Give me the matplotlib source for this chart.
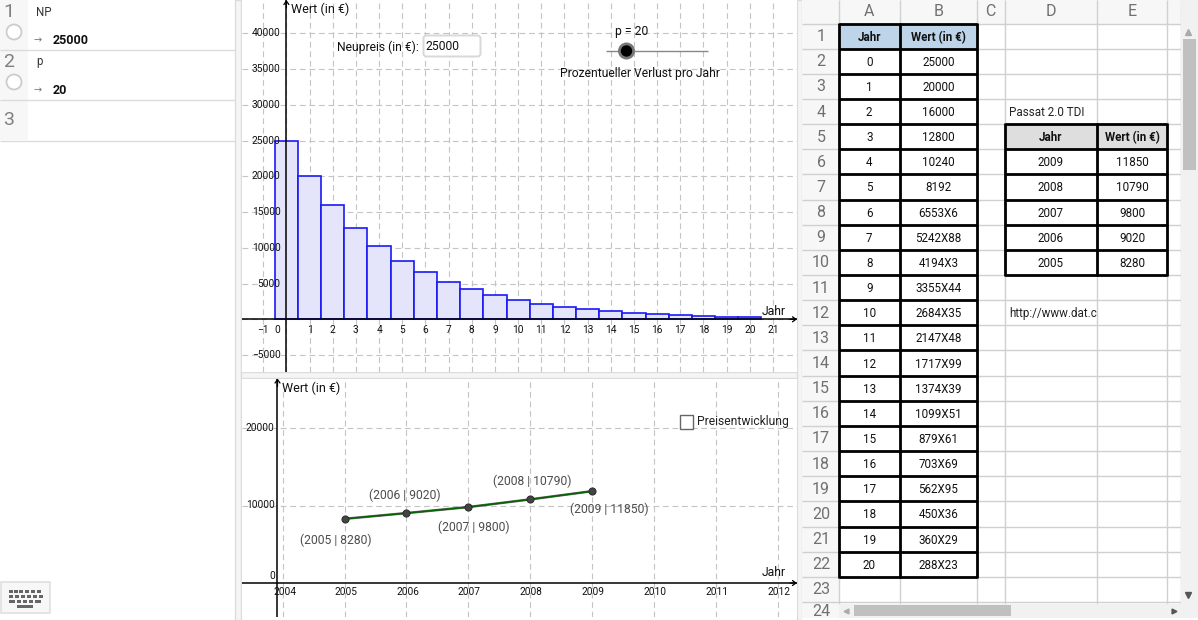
import matplotlib
matplotlib.use("Agg")
import matplotlib.pyplot as plt
from matplotlib.patches import Rectangle, Circle, FancyBboxPatch

plt.rcParams['font.family'] = ['Roboto', 'DejaVu Sans']

# ---------- data ----------
jahre = list(range(21))
wert = [25000, 20000, 16000, 12800, 10240, 8192, 6553.6, 5242.88, 4194.3, 3355.44,
        2684.35, 2147.48, 1717.99, 1374.39, 1099.51, 879.61, 703.69, 562.95, 450.36, 360.29, 288.23]
wert_text = ["25000", "20000", "16000", "12800", "10240", "8192", "6553X6", "5242X88", "4194X3",
             "3355X44", "2684X35", "2147X48", "1717X99", "1374X39", "1099X51", "879X61",
             "703X69", "562X95", "450X36", "360X29", "288X23"]
passat_jahr = [2005, 2006, 2007, 2008, 2009]
passat_wert = [8280, 9020, 9800, 10790, 11850]
passat_label_offset = [(-9, -21), (-2, 18), (5, -20), (2, 18), (17, -18)]
oben_xticks = list(range(-1, 22))
oben_yticks = list(range(-5000, 40001, 5000))
unten_xticks = list(range(2004, 2013))
unten_yticks = [10000, 20000]
spalten = ["A", "B", "C", "D", "E"]

W, H = 1198, 620
TICK = 7.3
LABEL = 9.0
GRID = '#c4c4c4'

fig = plt.figure(figsize=(W / 100, H / 100), dpi=100, facecolor='white')


def pixel_axes(x0, y0, x1, y1, z):
    a = fig.add_axes([x0 / W, 1 - y1 / H, (x1 - x0) / W, (y1 - y0) / H], zorder=z)
    return a


# ---------- UI background ----------
ui = pixel_axes(0, 0, W, H, 0)
ui.set_xlim(0, W); ui.set_ylim(H, 0); ui.axis('off')


def rect(a, x0, y0, x1, y1, fc, ec='none', lw=0, z=1):
    a.add_patch(Rectangle((x0, y0), x1 - x0, y1 - y0, fc=fc, ec=ec, lw=lw, zorder=z))


def line(a, xs, ys, c='#d8d8d8', lw=1.0, z=2):
    a.plot(xs, ys, color=c, lw=lw, zorder=z, solid_capstyle='butt')


# algebra view
rect(ui, 0, 0, 28, 140, '#f7f7f7')
for y in (49.5, 99.5, 140.5):
    line(ui, [0, 235], [y, y], '#dcdcdc', 1.0)
for i, (lab, val, y) in enumerate([("NP", "25000", 0), ("p", "20", 50)]):
    ui.text(9, y + 12, str(i + 1), fontsize=14, color='#808080', ha='center', va='center')
    ui.add_patch(Circle((14, y + 32), 7.5, fc='white', ec='#cccccc', lw=1.3, zorder=3))
    ui.text(36, y + 12, lab, fontsize=8.3, color='#333333', va='center')
    ui.text(33, y + 40, "→", fontsize=7, color='#777777', va='center')
    ui.text(53, y + 40, val, fontsize=9, color='#111111', weight='bold', va='center')
ui.text(9, 120, "3", fontsize=14, color='#808080', ha='center', va='center')

# keyboard button
rect(ui, 0.5, 582, 50, 612.5, '#f7f7f7', ec='#e0e0e0', lw=1.2)
for yy, xs in [(591.5, [9, 14, 19, 25, 31, 37]), (596.5, [9, 15, 21, 27, 33, 39])]:
    for x in xs:
        rect(ui, x, yy - 1.5, x + 4, yy + 1.5, '#666666', z=3)
for x, w in [(9, 6), (17, 4), (23, 4), (29, 4), (35, 6)]:
    rect(ui, x, 600, x + w, 603, '#666666', z=3)
rect(ui, 17, 605, 33, 608, '#666666', z=3)

# dividers
rect(ui, 235, 0, 241, H, '#f5f5f5', ec='#dcdcdc', lw=1)
rect(ui, 797, 0, 802, H, '#f5f5f5', ec='#dcdcdc', lw=1)
rect(ui, 241, 372, 797, 378, '#f5f5f5', ec='#dcdcdc', lw=1)

# ---------- spreadsheet ----------
col_x = [838.5, 900, 977, 1004.5, 1097, 1167, 1181]
ROW0, ROWH = 23.5, 25.15
TXT = 1.0
rows_y = [ROW0 + ROWH * i for i in range(25)]
rect(ui, 802, 0, 1198, H, 'white')
rect(ui, 802, 0, 1198, ROW0, '#f7f7f7')
rect(ui, 802, 0, col_x[0], H, '#f7f7f7')
for x in col_x:
    line(ui, [x, x], [0, 604], '#d0d0d0', 1.0)
for y in rows_y[:24]:
    line(ui, [802, 1181], [y, y], '#d0d0d0', 1.0)
for name, a_, b_ in zip(spalten, col_x[:-1], col_x[1:]):
    ui.text((a_ + b_) / 2, 12, name, fontsize=11.5, color='#707070', ha='center', va='center')
for r in range(24):
    yc = rows_y[r] + ROWH / 2 + 0.5 if r < 23 else 611
    ui.text(821, yc, str(r + 1), fontsize=11.5, color='#707070', ha='center', va='center')

# table A1:B22
rect(ui, col_x[0], rows_y[0], col_x[2], rows_y[1], '#bdd4e9', z=1.5)
ui.text((col_x[0] + col_x[1]) / 2, rows_y[0] + ROWH / 2 + TXT, "Jahr", fontsize=8.4, weight='bold', ha='center', va='center', color='#111111')
ui.text((col_x[1] + col_x[2]) / 2, rows_y[0] + ROWH / 2 + TXT, "Wert (in €)", fontsize=8.4, weight='bold', ha='center', va='center', color='#111111')
for i, (j, t) in enumerate(zip(jahre, wert_text)):
    yc = rows_y[i + 1] + ROWH / 2 + TXT
    ui.text((col_x[0] + col_x[1]) / 2, yc, str(j), fontsize=8.4, ha='center', va='center', color='#111111')
    ui.text((col_x[1] + col_x[2]) / 2, yc, t, fontsize=8.4, ha='center', va='center', color='#111111')
for i in range(23):
    line(ui, [col_x[0], col_x[2]], [rows_y[i]] * 2, 'black', 2.0, z=4)
for x in col_x[:3]:
    line(ui, [x, x], [rows_y[0] - 1, rows_y[22] + 1], 'black', 2.0, z=4)

# table D5:E10
rect(ui, col_x[3], rows_y[4], col_x[5], rows_y[5], '#dedede', z=1.5)
ui.text((col_x[3] + col_x[4]) / 2, rows_y[4] + ROWH / 2 + TXT, "Jahr", fontsize=8.4, weight='bold', ha='center', va='center', color='#111111')
ui.text((col_x[4] + col_x[5]) / 2, rows_y[4] + ROWH / 2 + TXT, "Wert (in €)", fontsize=8.4, weight='bold', ha='center', va='center', color='#111111')
for i, (j, v) in enumerate(zip(passat_jahr[::-1], passat_wert[::-1])):
    yc = rows_y[5 + i] + ROWH / 2 + TXT
    ui.text((col_x[3] + col_x[4]) / 2, yc, str(j), fontsize=8.4, ha='center', va='center', color='#111111')
    ui.text((col_x[4] + col_x[5]) / 2, yc, str(v), fontsize=8.4, ha='center', va='center', color='#111111')
for i in range(4, 11):
    line(ui, [col_x[3], col_x[5]], [rows_y[i]] * 2, 'black', 2.0, z=4)
for x in col_x[3:6]:
    line(ui, [x, x], [rows_y[4] - 1, rows_y[10] + 1], 'black', 2.0, z=4)
ui.text(1009, rows_y[3] + ROWH / 2 + TXT, "Passat 2.0 TDI", fontsize=8.4, va='center', color='#222222')
ui.text(1009, rows_y[11] + ROWH / 2 + TXT, "http://www.dat.c", fontsize=8.4, va='center', color='#222222')

# scrollbars
rect(ui, 1181, 0, 1198, H, '#f1f1f1', z=5)
rect(ui, 1183, 39, 1196, 170, '#c0c0c0', z=6)
ui.plot([1188], [32], marker='^', ms=4, color='#aaaaaa', zorder=6)
ui.plot([1188], [595], marker='v', ms=4, color='#555555', zorder=6)
rect(ui, col_x[0], 604, 1181, 618, '#f1f1f1', z=5)
rect(ui, 854, 605, 1011, 616, '#c0c0c0', z=6)
ui.plot([846], [611], marker='<', ms=3.5, color='#aaaaaa', zorder=6)
ui.plot([1174], [611], marker='>', ms=3.5, color='#555555', zorder=6)
rect(ui, 802, 618, 1198, H, 'white', z=7)


# ---------- upper chart ----------
P1 = (242, 0, 797, 371.5)
X0, XU = 286.4, 23.17
Y0, YU = 319.3, 286 / 40000
ax = pixel_axes(*P1, 2)
ax.set_xlim((P1[0] - X0) / XU, (P1[2] - X0) / XU)
ax.set_ylim((Y0 - P1[3]) / YU, (Y0 - P1[1]) / YU)
ax.bar(jahre, wert, width=1.0, facecolor='#e4e4fb', edgecolor='#1a1af5', linewidth=1.2, zorder=2)

# ---------- lower chart ----------
P2 = (242, 378.5, 797, 617)
X0b, XUb = 344.6, 61.9
Y0b, YUb = 583, 77.5 / 10000
ax2 = pixel_axes(*P2, 2)
ax2.set_xlim(2005 + (P2[0] - X0b) / XUb, 2005 + (P2[2] - X0b) / XUb)
ax2.set_ylim((Y0b - P2[3]) / YUb, (Y0b - P2[1]) / YUb)
ax2.plot(passat_jahr, passat_wert, color='#666666', lw=1.8, zorder=3)
ax2.plot(passat_jahr, passat_wert, color='#006400', lw=1.1, zorder=3.1)
ax2.plot(passat_jahr, passat_wert, ls='none', marker='o', ms=5.2, mfc='#444444', mec='#222222', mew=0.6, zorder=4)
for x, y, off in zip(passat_jahr, passat_wert, passat_label_offset):
    ax2.annotate(f"({x} | {y})", (x, y), xytext=off, textcoords='offset pixels', fontsize=8.7,
                 color='#4d4d4d', ha='center', va='center', zorder=5)

for a, xt, yt, yaxis_x in (
        (ax, oben_xticks, oben_yticks, 0),
        (ax2, unten_xticks, unten_yticks, 2004 - 5.2 / XUb)):
    for s in a.spines.values():
        s.set_visible(False)
    a.set_xticks(xt); a.set_yticks(yt)
    a.set_xticklabels([]); a.set_yticklabels([])
    a.tick_params(length=0)
    a.grid(True, color=GRID, lw=0.8, ls=(0, (5.2, 3.4)), zorder=0)
    a.set_axisbelow(True)
    a.axhline(0, color='black', lw=1.1, zorder=6)
    a.axvline(yaxis_x, color='black', lw=1.1, zorder=6)
    a.annotate('', xy=(1, 0), xycoords=a.get_yaxis_transform(), xytext=(-7, 0), textcoords='offset pixels',
               arrowprops=dict(arrowstyle='->,head_length=0.25,head_width=0.18', color='black', lw=0.9, shrinkA=0, shrinkB=0), zorder=7)
    a.annotate('', xy=(yaxis_x, 1), xycoords=a.get_xaxis_transform(), xytext=(0, -8), textcoords='offset pixels',
               arrowprops=dict(arrowstyle='->,head_length=0.25,head_width=0.18', color='black', lw=0.9, shrinkA=0, shrinkB=0), zorder=7)

# upper tick labels
for v in oben_xticks:
    if v == 0:
        ax.annotate("0", (0, 0), xytext=(-9, -11), textcoords='offset pixels', fontsize=TICK, ha='center', va='center', color='#111111', zorder=8)
    else:
        ax.annotate(str(v).replace('-', '−'), (v, 0), xytext=(0, -11), textcoords='offset pixels',
                    fontsize=TICK, ha='center', va='center', color='#111111', zorder=8)
for v in oben_yticks:
    if v != 0:
        ax.annotate(str(v).replace('-', '−'), (0, v), xytext=(-6, 0), textcoords='offset pixels',
                    fontsize=TICK, ha='right', va='center', color='#111111', zorder=8)
ax.annotate("Wert (in €)", (0, 1), xycoords=ax.get_xaxis_transform(), xytext=(5, -9), textcoords='offset pixels',
            fontsize=LABEL, ha='left', va='center', color='#111111', zorder=8)
ax.annotate("Jahr", (1, 0), xycoords=ax.get_yaxis_transform(), xytext=(-11, 8), textcoords='offset pixels',
            fontsize=LABEL - 0.3, ha='right', va='center', color='#111111', zorder=8)

# lower tick labels
for v in unten_xticks:
    ax2.annotate(str(v), (v, 0), xytext=(1 if v > 2004 else 2, -9), textcoords='offset pixels',
                 fontsize=TICK, ha='center', va='center', color='#111111', zorder=8)
for v in unten_yticks + [0]:
    ax2.annotate(str(v), (2004 - 5.2 / XUb, v), xytext=(-3 if v else -2, 0 if v else 7), textcoords='offset pixels',
                 fontsize=TICK, ha='right', va='center', color='#111111', zorder=8)
ax2.annotate("Wert (in €)", (2004 - 5.2 / XUb, 1), xycoords=ax2.get_xaxis_transform(), xytext=(5, -10), textcoords='offset pixels',
             fontsize=LABEL, ha='left', va='center', color='#111111', zorder=8)
ax2.annotate("Jahr", (1, 0), xycoords=ax2.get_yaxis_transform(), xytext=(-11, 10), textcoords='offset pixels',
             fontsize=LABEL - 0.3, ha='right', va='center', color='#111111', zorder=8)

# ---------- widgets over the charts ----------
top = pixel_axes(0, 0, W, H, 3)
top.set_xlim(0, W); top.set_ylim(H, 0); top.axis('off'); top.patch.set_alpha(0)
top.text(337, 47, "Neupreis (in €):", fontsize=LABEL - 0.3, va='center', color='#111111')
top.add_patch(FancyBboxPatch((423.5, 35.5), 57, 21, boxstyle='round,pad=0,rounding_size=3',
                             fc='white', ec='#d8d8d8', lw=1.4))
top.text(425.5, 47, "25000", fontsize=LABEL - 0.3, va='center', color='#111111')
line(top, [606, 708], [51, 51], '#888888', 1.0)
top.add_patch(Circle((626.5, 51), 8.5, fc='#777777', ec='none', zorder=3))
top.add_patch(Circle((626.5, 51), 5.7, fc='black', ec='none', zorder=4))
top.text(631.5, 32, "p = 20", fontsize=LABEL - 0.3, ha='center', va='center', color='#111111')
top.text(640, 73.5, "Prozentueller Verlust pro Jahr", fontsize=LABEL - 0.3, ha='center', va='center', color='#111111')
top.add_patch(Rectangle((679.5, 415), 13.5, 13.5, fc='white', ec='#666666', lw=1.0))
top.text(697, 421, "Preisentwicklung", fontsize=LABEL - 0.3, va='center', color='#222222')

fig.savefig("out.png", dpi=100)
